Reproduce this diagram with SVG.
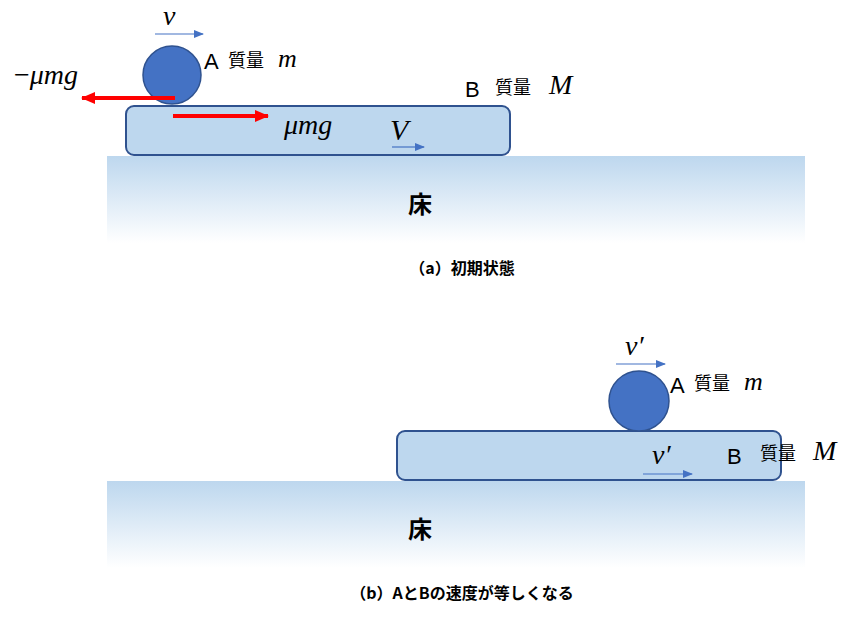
<svg xmlns="http://www.w3.org/2000/svg" width="853" height="618" viewBox="0 0 853 618">
<style>
.ball{fill:#4472c4;stroke:#2f528f;stroke-width:1.5}
.plate{fill:#bdd7ee;stroke:#2f528f;stroke-width:2}
.math{font-family:"Liberation Serif",serif;font-style:italic;fill:#000}
.lbl{font-family:"Liberation Sans",sans-serif;font-size:22px;fill:#000}
.jp{font-family:"Noto Sans CJK JP",sans-serif;font-size:18px;fill:#000}
.cap{font-family:"Noto Sans CJK JP",sans-serif;font-size:16px;font-weight:bold;fill:#000;text-anchor:middle}
.floorT{font-family:"Noto Sans CJK JP",sans-serif;font-size:24px;font-weight:bold;fill:#000;text-anchor:middle}
.blue{stroke:#4472c4;stroke-width:1.2;fill:none;marker-end:url(#bh)}
.red{stroke:#ff0000;stroke-width:4;fill:none;marker-end:url(#rh)}
</style>
<defs>
<linearGradient id="fl" x1="0" y1="0" x2="0" y2="1"><stop offset="0" stop-color="#bdd7ee"/><stop offset="1" stop-color="#ffffff"/></linearGradient>
<marker id="bh" markerWidth="10" markerHeight="8" refX="9" refY="4" orient="auto" markerUnits="userSpaceOnUse"><path d="M0,0 L10,4 L0,8 Z" fill="#4472c4"/></marker>
<marker id="rh" markerWidth="14" markerHeight="12" refX="13" refY="6" orient="auto" markerUnits="userSpaceOnUse"><path d="M0,0 L14,6 L0,12 Z" fill="#ff0000"/></marker>
</defs>
<g id="floorA"><rect x="107" y="156" width="698" height="87" fill="url(#fl)"/><text class="floorT" x="420" y="213">床</text></g>
<g id="plateB"><rect class="plate" x="126" y="106" width="384" height="49" rx="8"/></g>
<g id="ballA"><circle class="ball" cx="172" cy="75" r="29"/></g>
<g id="connectorsA">
<line class="blue" x1="155" y1="34" x2="203" y2="34"/>
<line class="red" x1="175" y1="98" x2="82" y2="98"/>
<line class="red" x1="173" y1="116" x2="268" y2="116"/>
<line class="blue" x1="392" y1="147" x2="424" y2="147"/>
</g>
<g id="labelsA">
<text class="math" x="163" y="25" font-size="28">v</text>
<text class="lbl" x="204" y="69">A</text><text class="jp" x="228" y="67">質量</text><text class="math" x="278" y="67" font-size="26">m</text>
<text class="math" x="14" y="84" font-size="28"><tspan font-style="normal">−</tspan>μmg</text>
<text class="lbl" x="465" y="97">B</text><text class="jp" x="495" y="94">質量</text><text class="math" x="549" y="94" font-size="28">M</text>
<text class="math" x="284" y="134" font-size="28">μmg</text>
<text class="math" x="390" y="140" font-size="30">V</text>
</g>
<text class="cap" x="462" y="274">（a）初期状態</text>
<g id="floorB"><rect x="107" y="481" width="698" height="87" fill="url(#fl)"/><text class="floorT" x="420" y="538">床</text></g>
<g id="plateB2"><rect class="plate" x="397" y="431" width="384" height="49" rx="8"/></g>
<g id="ballA2"><circle class="ball" cx="639" cy="401" r="30"/></g>
<g id="connectorsB">
<line class="blue" x1="616" y1="364" x2="665" y2="364"/>
<line class="blue" x1="643" y1="474" x2="692" y2="474"/>
</g>
<g id="labelsB">
<text class="math" x="625" y="355" font-size="28">v′</text>
<text class="lbl" x="670" y="393">A</text><text class="jp" x="694" y="390">質量</text><text class="math" x="744" y="390" font-size="26">m</text>
<text class="math" x="652" y="464" font-size="28">v′</text>
<text class="lbl" x="727" y="464">B</text><text class="jp" x="760" y="460">質量</text><text class="math" x="813" y="460" font-size="28">M</text>
</g>
<text class="cap" x="462" y="599">（b）AとBの速度が等しくなる</text>
</svg>
